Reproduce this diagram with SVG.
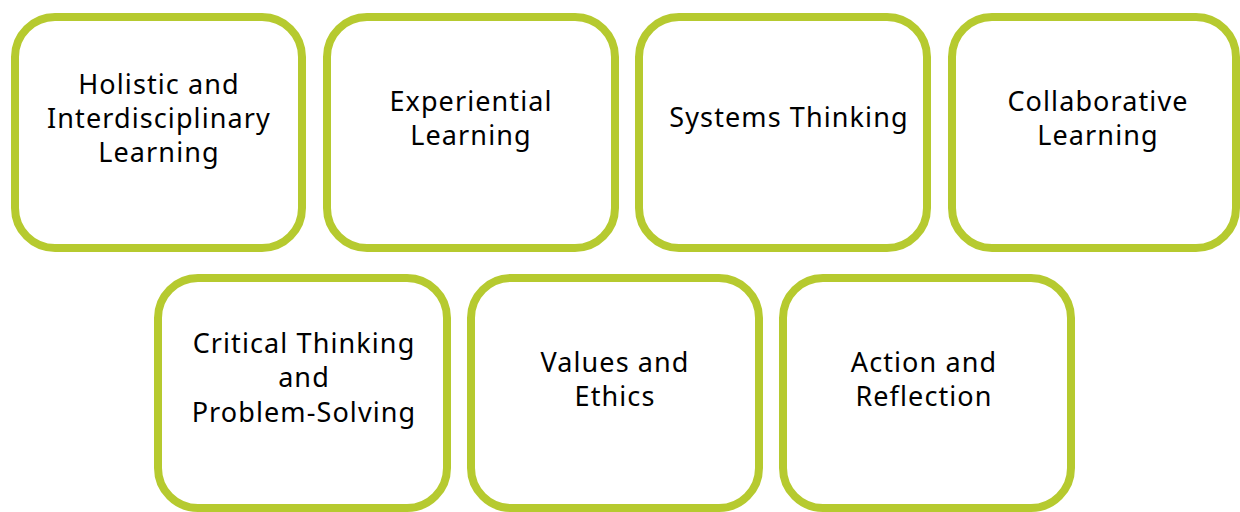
<svg xmlns="http://www.w3.org/2000/svg" width="1240" height="512" viewBox="0 0 1240 512">
  <style>
    .box { fill: #ffffff; stroke: #b6ca2f; stroke-width: 8; }
    .label { font-family: "Noto Sans", "Open Sans", sans-serif; font-size: 27px; letter-spacing: 1.1px; fill: #000000; text-anchor: middle; }
  </style>
  <rect width="1240" height="512" fill="#ffffff"/>

  <!-- top row -->
  <g id="node-holistic">
    <rect class="box" x="15" y="17" width="287" height="231" rx="40" ry="40"/>
    <text class="label"><tspan x="159" y="94">Holistic and</tspan><tspan x="159" y="128">Interdisciplinary</tspan><tspan x="159" y="162">Learning</tspan></text>
  </g>
  <g id="node-experiential">
    <rect class="box" x="327" y="17" width="288" height="231" rx="40" ry="40"/>
    <text class="label"><tspan x="471" y="111">Experiential</tspan><tspan x="471" y="145">Learning</tspan></text>
  </g>
  <g id="node-systems">
    <rect class="box" x="639" y="17" width="288" height="231" rx="40" ry="40"/>
    <text class="label" x="789" y="127">Systems Thinking</text>
  </g>
  <g id="node-collaborative">
    <rect class="box" x="952" y="17" width="284" height="231" rx="40" ry="40"/>
    <text class="label"><tspan x="1098" y="111">Collaborative</tspan><tspan x="1098" y="145">Learning</tspan></text>
  </g>

  <!-- bottom row -->
  <g id="node-critical">
    <rect class="box" x="158" y="278" width="289" height="230" rx="40" ry="40"/>
    <text class="label"><tspan x="304" y="353">Critical Thinking</tspan><tspan x="304" y="387">and</tspan><tspan x="304" y="422">Problem-Solving</tspan></text>
  </g>
  <g id="node-values">
    <rect class="box" x="471" y="278" width="288" height="230" rx="40" ry="40"/>
    <text class="label"><tspan x="615" y="372">Values and</tspan><tspan x="615" y="406">Ethics</tspan></text>
  </g>
  <g id="node-action">
    <rect class="box" x="783" y="278" width="288" height="230" rx="40" ry="40"/>
    <text class="label"><tspan x="924" y="372">Action and</tspan><tspan x="924" y="406">Reflection</tspan></text>
  </g>

  <g id="connectors"></g>
</svg>
